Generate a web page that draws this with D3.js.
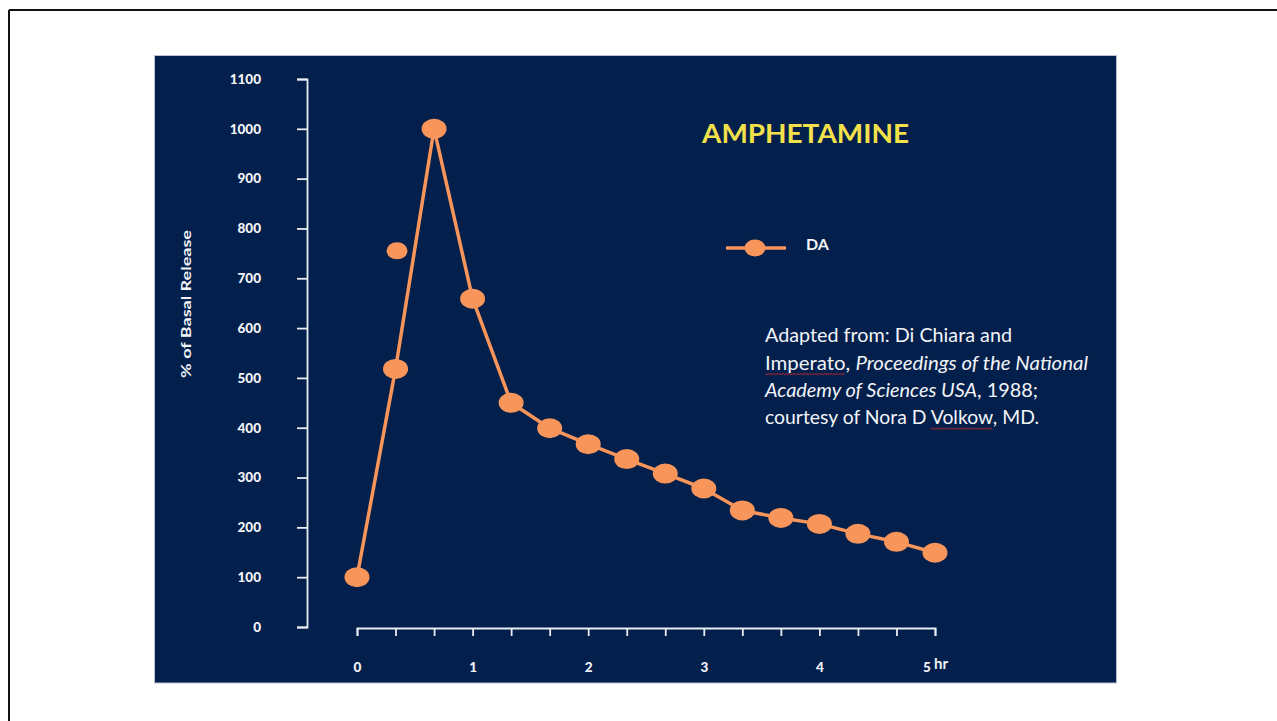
<!DOCTYPE html>
<html>
<head>
<meta charset="utf-8">
<script src="https://cdn.jsdelivr.net/npm/d3@7"></script>
<style>
  html, body { margin: 0; padding: 0; background: #ffffff; }
  svg { display: block; }
</style>
</head>
<body>
<svg id="chart" width="1277" height="721"></svg>
<script>
// ---- data ----
const minutes = [0, 20, 40, 60, 80, 100, 120, 140, 160, 180, 200, 220, 240, 260, 280, 300];
const daValues = [100, 518, 1000, 659, 450, 399, 367, 337, 308, 278, 234, 219, 207, 187, 171, 149];
const extraMinutes = [20];
const extraValues = [755];
const yTicks = [0, 100, 200, 300, 400, 500, 600, 700, 800, 900, 1000, 1100];
const xTicks = [0, 20, 40, 60, 80, 100, 120, 140, 160, 180, 200, 220, 240, 260, 280, 300];
const xTickLabels = {0: "0", 60: "1", 120: "2", 180: "3", 240: "4", 300: "5"};
const xUnit = "hr";
const titleText = "AMPHETAMINE";
const seriesName = "DA";
const yAxisTitle = "% of Basal Release";

const svg = d3.select("#chart");
const NAVY = "#031f4b";
const ORANGE = "#f8955a";
const AXIS = "#e9edf3";
const FONT = "Lato, 'Open Sans', sans-serif";

// page frame (top and left rules)
svg.append("line").attr("x1", 9).attr("x2", 1277).attr("y1", 10).attr("y2", 10)
  .attr("stroke", "#111").attr("stroke-width", 2);
svg.append("line").attr("x1", 9).attr("x2", 9).attr("y1", 10).attr("y2", 721)
  .attr("stroke", "#111").attr("stroke-width", 2);

// navy panel
svg.append("rect").attr("x", 154.5).attr("y", 55.5).attr("width", 962).attr("height", 627.5)
  .attr("fill", NAVY).attr("stroke", "#b9c3d3").attr("stroke-width", 1);

// scales
const x = d3.scaleLinear().domain([0, 300]).range([357, 935]);
const y = d3.scaleLinear().domain([0, 1100]).range([627, 79]);

// y axis
const yAxis = svg.append("g").attr("transform", "translate(307,0)")
  .call(d3.axisLeft(y).tickValues(yTicks).tickFormat(d3.format("d"))
    .tickSize(10).tickSizeOuter(10).tickPadding(36));
yAxis.select(".domain").attr("stroke", AXIS).attr("stroke-width", 1.8);
yAxis.selectAll(".tick line").attr("stroke", AXIS).attr("stroke-width", 1.8);
yAxis.selectAll(".tick text").attr("fill", "#f2f4f8")
  .style("font-family", FONT).style("font-weight", "900")
  .style("font-size", "13.5px");

// x axis
const xAxis = svg.append("g").attr("transform", "translate(0,628)")
  .call(d3.axisBottom(x).tickValues(xTicks).tickSize(8).tickSizeOuter(8).tickPadding(26)
    .tickFormat(d => xTickLabels[d] !== undefined ? xTickLabels[d] : ""));
xAxis.select(".domain").attr("stroke", AXIS).attr("stroke-width", 1.8);
xAxis.selectAll(".tick line").attr("stroke", AXIS).attr("stroke-width", 1.8);
xAxis.selectAll(".tick text").attr("fill", "#f2f4f8")
  .style("font-family", FONT).style("font-weight", "900")
  .style("font-size", "13.5px");
// last label carries the unit ("5 hr"), centred on its tick
xAxis.selectAll(".tick text").filter(d => d === 300).each(function() {
  const t = d3.select(this);
  const base = t.text();
  t.text(null);
  t.append("tspan").text(base + " ");
  t.append("tspan").text(xUnit).attr("dy", "-0.15em")
    .style("font-weight", "700").style("font-size", "15px");
});

// y axis title
svg.append("text")
  .attr("transform", "translate(191,304) rotate(-90)")
  .attr("text-anchor", "middle")
  .attr("textLength", 148).attr("lengthAdjust", "spacingAndGlyphs")
  .text(yAxisTitle)
  .attr("fill", "#f2f4f8").style("font-family", FONT)
  .style("font-weight", "700").style("font-size", "14px");

// series
const pts = minutes.map((m, i) => ({m: m, v: daValues[i]}));
const line = d3.line().x(d => x(d.m)).y(d => y(d.v));
svg.append("path").datum(pts).attr("d", line)
  .attr("fill", "none").attr("stroke", ORANGE).attr("stroke-width", 3.5)
  .attr("stroke-linejoin", "round");
svg.selectAll("ellipse.pt").data(pts).join("ellipse").attr("class", "pt")
  .attr("cx", d => x(d.m)).attr("cy", d => y(d.v)).attr("rx", 12.5).attr("ry", 10)
  .attr("fill", ORANGE);
const extra = extraMinutes.map((m, i) => ({m: m, v: extraValues[i]}));
svg.selectAll("ellipse.extra").data(extra).join("ellipse").attr("class", "extra")
  .attr("cx", d => x(d.m) + 1.5).attr("cy", d => y(d.v)).attr("rx", 10.5).attr("ry", 8.5)
  .attr("fill", ORANGE);

// title
svg.append("text").attr("x", 702).attr("y", 143).text(titleText)
  .attr("textLength", 207).attr("lengthAdjust", "spacingAndGlyphs")
  .attr("fill", "#f3e14b").style("font-family", FONT)
  .style("font-weight", "700").style("font-size", "27px");

// legend
svg.append("line").attr("x1", 726).attr("x2", 786).attr("y1", 248).attr("y2", 248)
  .attr("stroke", ORANGE).attr("stroke-width", 3.5);
svg.append("ellipse").attr("cx", 755).attr("cy", 248).attr("rx", 10.5).attr("ry", 8.5).attr("fill", ORANGE);
svg.append("text").attr("x", 806).attr("y", 250).text(seriesName)
  .attr("fill", "#f2f4f8").style("font-family", FONT)
  .style("font-weight", "700").style("font-size", "16px");

// source text
const srcLines = [
  {parts: [["Adapted from: Di Chiara and", false]], w: 247, base: 342},
  {parts: [["Imperato", false], [", ", false], ["Proceedings of the National", true]], w: 323, base: 369.5},
  {parts: [["Academy of Sciences USA", true], [", 1988;", false]], w: 273, base: 397},
  {parts: [["courtesy of Nora D ", false], ["Volkow", false], [", MD.", false]], w: 274, base: 424}
];
const srcTexts = [];
srcLines.forEach(L => {
  const t = svg.append("text").attr("x", 765).attr("y", L.base)
    .attr("textLength", L.w).attr("lengthAdjust", "spacingAndGlyphs")
    .attr("fill", "#f2f4f8").style("font-family", FONT)
    .style("font-size", "19px");
  L.parts.forEach(p => {
    t.append("tspan").text(p[0]).style("font-style", p[1] ? "italic" : "normal");
  });
  srcTexts.push(t);
});
// spell-check squiggles under "Imperato" and "Volkow"
function squiggle(textSel, word) {
  const node = textSel.node();
  const s = node.textContent;
  const i = s.indexOf(word);
  if (i < 0) return;
  const x0 = node.getStartPositionOfChar(i).x;
  const x1 = node.getEndPositionOfChar(i + word.length - 1).x;
  const yb = +textSel.attr("y") + 4;
  let d = "M" + x0 + "," + yb;
  let k = 0;
  for (let xx = x0 + 1.5; xx <= x1; xx += 1.5) {
    k++;
    d += "L" + xx + "," + (yb + (k % 2 ? 1.2 : 0));
  }
  svg.append("path").attr("d", d).attr("fill", "none").attr("stroke", "#d42a2a").attr("stroke-width", 0.9);
}
squiggle(srcTexts[1], "Imperato");
squiggle(srcTexts[3], "Volkow");
</script>
</body>
</html>
